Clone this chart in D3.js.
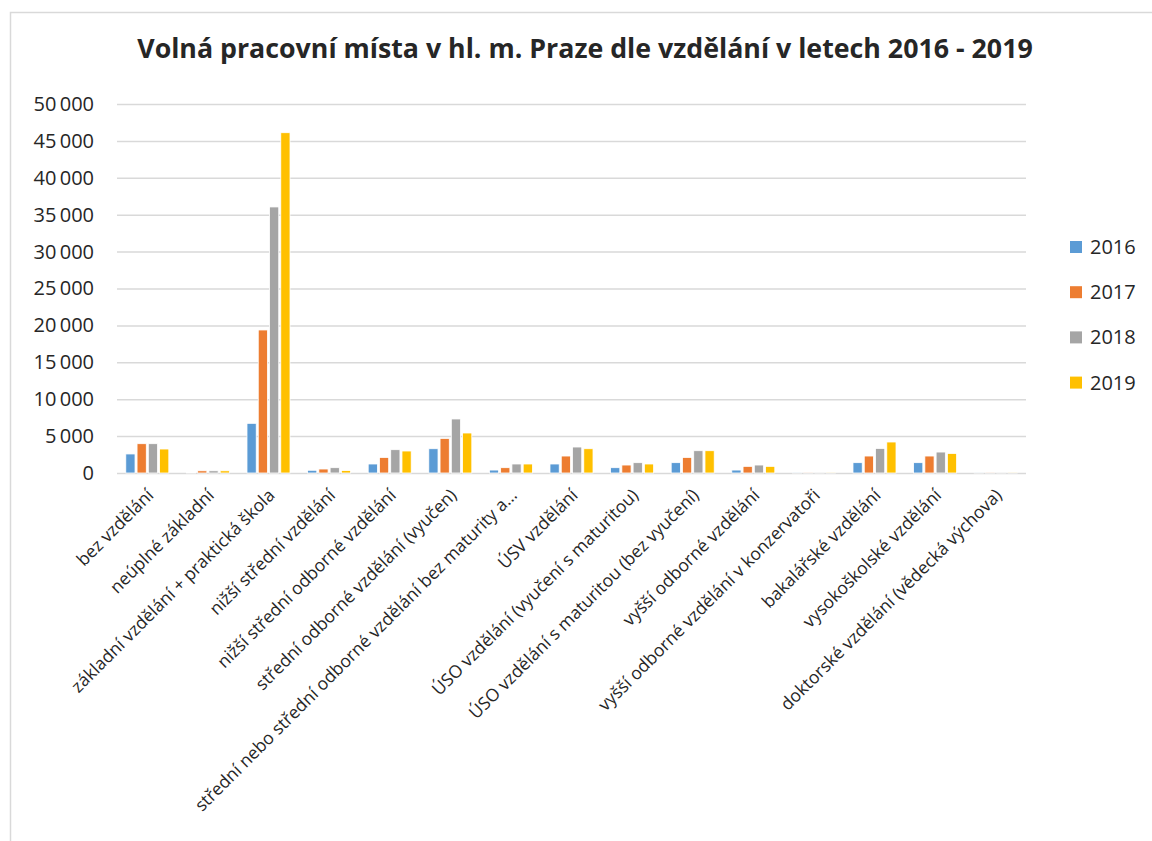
<!DOCTYPE html>
<html><head><meta charset="utf-8">
<script src="https://cdn.jsdelivr.net/npm/d3@7"></script>
<style>body{margin:0;background:#fff}svg{display:block}text{font-family:"Open Sans",sans-serif;fill:#262626}</style>
</head><body><svg id="c" width="1152" height="841"></svg>
<script>
const categories = ["bez vzdělání","neúplné základní","základní vzdělání + praktická škola","nižší střední vzdělání","nižší střední odborné vzdělání","střední odborné vzdělání (vyučen)","střední nebo střední odborné vzdělání bez maturity a…","ÚSV vzdělání","ÚSO vzdělání (vyučení s maturitou)","ÚSO vzdělání s maturitou (bez vyučení)","vyšší odborné vzdělání","vyšší odborné vzdělání v konzervatoři","bakalářské vzdělání","vysokoškolské vzdělání","doktorské vzdělání (vědecká výchova)"];
const years = ["2016","2017","2018","2019"];
const v2016 = [2580, 60, 6730, 370, 1220, 3290, 400, 1220, 720, 1400, 400, 15, 1400, 1400, 10];
const v2017 = [3970, 300, 19380, 540, 2110, 4690, 720, 2300, 1080, 2110, 900, 20, 2300, 2300, 20];
const v2018 = [3970, 300, 36050, 720, 3160, 7320, 1220, 3520, 1400, 3020, 1080, 20, 3330, 2840, 20];
const v2019 = [3250, 300, 46110, 330, 2980, 5420, 1220, 3290, 1220, 3020, 900, 20, 4200, 2650, 20];
const yTicks = [0,5000,10000,15000,20000,25000,30000,35000,40000,45000,50000];
const colors = ["#5B9BD5","#ED7D31","#A5A5A5","#FFC000"];
const title = "Volná pracovní místa v hl. m. Praze dle vzdělání v letech 2016 - 2019";

const series = [v2016, v2017, v2018, v2019];
const svg = d3.select("#c");
svg.append("rect").attr("x",10.5).attr("y",12.5).attr("width",1200).attr("height",900)
  .attr("fill","#fff").attr("stroke","#d9d9d9").attr("stroke-width",1.5);

const L=117, R=1026, T=104, B=473;
const y = d3.scaleLinear().domain([0,50000]).range([B,T]);
const x0 = d3.scaleBand().domain(categories).range([L,R]).paddingInner(0.29).paddingOuter(0.145);
const x1 = d3.scaleBand().domain(years).range([0,x0.bandwidth()]).paddingInner(0.18);
const fmt = d3.formatLocale({decimal:",",thousands:"\u2009",grouping:[3],currency:["","Kč"]}).format(",d");

// grid
const gAxis = svg.append("g").attr("transform",`translate(${L},0)`)
  .call(d3.axisLeft(y).tickValues(yTicks).tickSize(-(R-L)).tickFormat(fmt).tickPadding(23));
gAxis.select(".domain").remove();
gAxis.selectAll(".tick line").attr("stroke","#d9d9d9").attr("stroke-width",1.5);
gAxis.selectAll(".tick text").style("font-size","20px").attr("fill","#404040").style("font-family","'Open Sans',sans-serif");

// bars
const groups = svg.append("g").selectAll("g").data(categories).join("g")
  .attr("transform",d=>`translate(${x0(d)},0)`);
groups.selectAll("rect").data((d,i)=>years.map((yr,j)=>({yr,v:series[j][i],c:colors[j]}))).join("rect")
  .attr("x",d=>x1(d.yr)).attr("width",x1.bandwidth())
  .attr("y",d=>y(d.v)).attr("height",d=>B-y(d.v))
  .attr("fill",d=>d.c).attr("stroke","#fff").attr("stroke-width",0.8);

// x labels
svg.append("g").selectAll("text").data(categories).join("text")
  .attr("transform",d=>`translate(${x0(d)+x0.bandwidth()/2+3},${B+19}) rotate(-45)`)
  .attr("text-anchor","end").attr("dy","0.35em")
  .style("font-size","17.5px").attr("fill","#404040").text(d=>d);

// title
const t = svg.append("text").attr("x",585).attr("y",58).attr("text-anchor","middle")
  .style("font-size","22px").style("font-weight","bold").attr("fill","#000").text(title);
const w = t.node().getComputedTextLength();
t.style("font-size",(22*896/w).toFixed(2)+"px");

// legend
const lg = svg.append("g").selectAll("g").data(years).join("g")
  .attr("transform",(d,i)=>`translate(1070,${247+i*45.2})`);
lg.append("rect").attr("x",0).attr("y",-6).attr("width",12).attr("height",12).attr("fill",(d,i)=>colors[i]);
lg.append("text").attr("x",20).attr("dy","0.35em").style("font-size","20px").attr("fill","#404040").text(d=>d);
</script></body></html>
